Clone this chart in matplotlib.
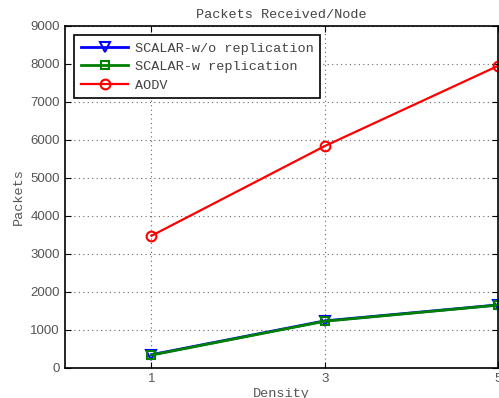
import matplotlib
matplotlib.use("Agg")
import matplotlib.pyplot as plt

density = [1, 3, 5]
scalar_wo = [350, 1240, 1660]
scalar_w = [340, 1230, 1655]
aodv = [3480, 5840, 7950]

mono = "Liberation Mono"
grey = "#555555"

fig = plt.figure(figsize=(4.99, 3.98), dpi=100)
ax = fig.add_axes([0.130, 0.0754, 0.868, 0.8593])

ax.plot(density, scalar_wo, color="blue", lw=2, marker="v", ms=7,
        mfc="none", mew=1.5, label="SCALAR-w/o replication")
ax.plot(density, scalar_w, color="green", lw=2, marker="s", ms=6,
        mfc="none", mew=1.5, label="SCALAR-w replication")
ax.plot(density, aodv, color="red", lw=1.6, marker="o", ms=7,
        mfc="none", mew=1.5, label="AODV")

ax.set_xlim(0, 5)
ax.set_ylim(0, 9000)
ax.set_xticks(density)
ax.set_yticks(range(0, 9001, 1000))
ax.tick_params(direction="in", top=True, right=True, labelsize=9.5,
               labelcolor=grey, length=4)
for lbl in ax.get_xticklabels() + ax.get_yticklabels():
    lbl.set_fontfamily("Liberation Sans")
ax.grid(True, linestyle=(0, (1, 3)), color="#666666", lw=0.8)
for s in ax.spines.values():
    s.set_linewidth(1.2)

ax.set_title("Packets Received/Node", fontfamily=mono, fontsize=9.7, color="#444444")
ax.set_xlabel("Density", fontfamily=mono, fontsize=9.7, color=grey, labelpad=2)
ax.set_ylabel("Packets", fontfamily=mono, fontsize=9.7, color=grey, labelpad=4)

leg = ax.legend(loc="upper left", prop={"family": mono, "size": 9.7},
                fancybox=False, framealpha=1, edgecolor="black",
                handlelength=3.5, handletextpad=0.5, borderaxespad=0.7,
                labelspacing=0.45, borderpad=0.5)
leg.get_frame().set_linewidth(1.2)
for t in leg.get_texts():
    t.set_color("#444444")

fig.savefig("out.png", dpi=100)
